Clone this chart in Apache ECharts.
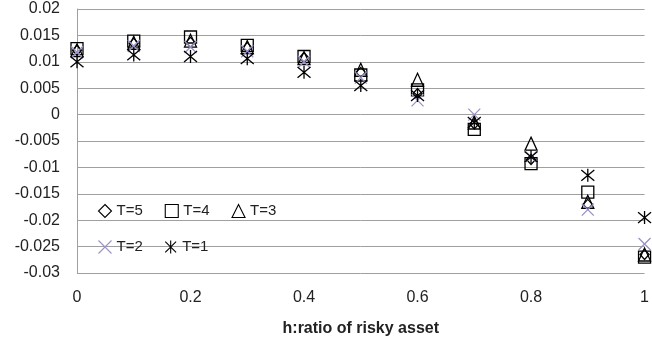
<!DOCTYPE html>
<html>
<head>
<meta charset="utf-8">
<script src="https://cdn.jsdelivr.net/npm/echarts@6/dist/echarts.min.js"></script>
<style>
  html, body { margin: 0; padding: 0; background: #fff; }
  #chart { width: 652px; height: 347px; }
</style>
</head>
<body>
<div id="chart"></div>
<script>
// h: share of the portfolio held in the risky asset
const hRatio = [0, 0.1, 0.2, 0.3, 0.4, 0.5, 0.6, 0.7, 0.8, 0.9, 1.0];

// Results for each horizon T
const t5 = [0.0122, 0.0135, 0.0137, 0.0127, 0.0108, 0.0080, 0.0040, -0.0018, -0.0085, -0.0170, -0.0265];
const t4 = [0.0125, 0.0139, 0.0147, 0.0131, 0.0110, 0.0075, 0.0047, -0.0028, -0.0093, -0.0147, -0.0270];
const t3 = [0.0122, 0.0136, 0.0140, 0.0128, 0.0107, 0.0085, 0.0066, -0.0015, -0.0055, -0.0165, -0.0265];
const t2 = [0.0118, 0.0130, 0.0128, 0.0120, 0.0100, 0.0070, 0.0027, 0.0000, -0.0080, -0.0180, -0.0245];
const t1 = [0.0100, 0.0113, 0.0110, 0.0106, 0.0080, 0.0055, 0.0036, -0.0015, -0.0080, -0.0115, -0.0195];

const xTicks = [0, 0.2, 0.4, 0.6, 0.8, 1];
const yTicks = [-0.03, -0.025, -0.02, -0.015, -0.01, -0.005, 0, 0.005, 0.01, 0.015, 0.02];

const pair = arr => arr.map((v, i) => [hRatio[i], v]);

const crossPath = 'path://M0,0L10,10M10,0L0,10';
const starPath = 'path://M0,0L10,10M10,0L0,10M5,-1L5,11';

const FONT = 'Liberation Sans';
const GRID = '#a0a0a0';

function hollow(name, data, symbol, size, color) {
  return {
    name, type: 'scatter', data: pair(data), symbol, symbolSize: size,
    itemStyle: { color: 'none', borderColor: color, borderWidth: 1.3, opacity: 1 },
    emphasis: { disabled: true },
    z: 2
  };
}

const chart = echarts.init(document.getElementById('chart'), null, { renderer: 'canvas' });

const legendText = { fontFamily: FONT, fontSize: 15, color: '#222' };
const legendIcon = { borderWidth: 1.1 };

chart.setOption({
  animation: false,
  backgroundColor: '#fff',
  grid: { left: 77, right: 5, top: 9, bottom: 74, containLabel: false },
  xAxis: {
    type: 'value', min: 0, max: 1, interval: 0.2,
    axisLine: { show: false, onZero: false },
    axisTick: { show: false },
    splitLine: { show: false },
    axisLabel: {
      margin: 17, fontFamily: FONT, fontSize: 16, color: '#222',
      formatter: v => xTicks.includes(+v.toFixed(1)) ? String(+v.toFixed(1)) : ''
    },
    name: 'h:ratio of risky asset',
    nameLocation: 'middle', nameGap: 48,
    nameTextStyle: { fontFamily: FONT, fontSize: 16, fontWeight: 'bold', color: '#222' }
  },
  yAxis: {
    type: 'value', min: -0.03, max: 0.02, interval: 0.005,
    axisLine: { show: true, lineStyle: { color: GRID, width: 1 } },
    axisTick: { show: false },
    splitLine: { show: true, lineStyle: { color: GRID, width: 1 } },
    axisLabel: {
      margin: 17, fontFamily: FONT, fontSize: 16, color: '#222',
      formatter: v => String(+v.toFixed(3))
    }
  },
  legend: [
    {
      data: ['T=5', 'T=4', 'T=3'], orient: 'horizontal',
      left: 91, top: 197, itemWidth: 13, itemHeight: 13, itemGap: 20,
      textStyle: legendText, itemStyle: legendIcon, selectedMode: false
    },
    {
      data: ['T=2', 'T=1'], orient: 'horizontal',
      left: 91, top: 233, itemWidth: 13, itemHeight: 13, itemGap: 20,
      textStyle: legendText, itemStyle: legendIcon, selectedMode: false
    }
  ],
  series: [
    hollow('T=5', t5, 'diamond', [9, 10], '#000'),
    hollow('T=4', t4, 'rect', 12, '#000'),
    hollow('T=3', t3, 'triangle', [12, 13], '#000'),
    hollow('T=2', t2, crossPath, 12, '#9d90c6'),
    hollow('T=1', t1, starPath, 13, '#000')
  ]
});
</script>
</body>
</html>
